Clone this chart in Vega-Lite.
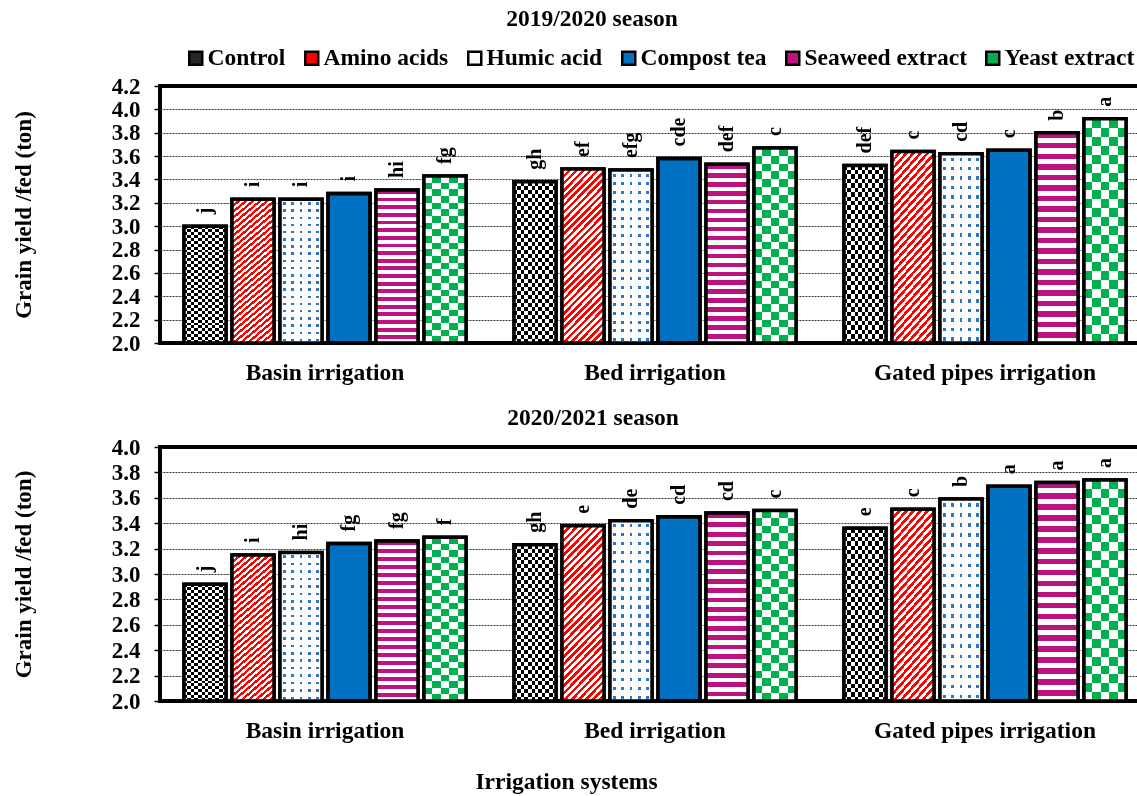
{
"$schema":"https://vega.github.io/schema/vega-lite/v6.json",
"padding":{"left":10,"top":4,"right":0,"bottom":0},
"datasets":{"d":[
{"s":"2019/2020","irr":"Basin irrigation","trt":"Control","v":3.00,"lab":"j"},
{"s":"2019/2020","irr":"Basin irrigation","trt":"Amino acids","v":3.23,"lab":"i"},
{"s":"2019/2020","irr":"Basin irrigation","trt":"Humic acid","v":3.23,"lab":"i"},
{"s":"2019/2020","irr":"Basin irrigation","trt":"Compost tea","v":3.28,"lab":"i"},
{"s":"2019/2020","irr":"Basin irrigation","trt":"Seaweed extract","v":3.31,"lab":"hi"},
{"s":"2019/2020","irr":"Basin irrigation","trt":"Yeast extract","v":3.43,"lab":"fg"},
{"s":"2019/2020","irr":"Bed irrigation","trt":"Control","v":3.38,"lab":"gh"},
{"s":"2019/2020","irr":"Bed irrigation","trt":"Amino acids","v":3.49,"lab":"ef"},
{"s":"2019/2020","irr":"Bed irrigation","trt":"Humic acid","v":3.48,"lab":"efg"},
{"s":"2019/2020","irr":"Bed irrigation","trt":"Compost tea","v":3.58,"lab":"cde"},
{"s":"2019/2020","irr":"Bed irrigation","trt":"Seaweed extract","v":3.53,"lab":"def"},
{"s":"2019/2020","irr":"Bed irrigation","trt":"Yeast extract","v":3.67,"lab":"c"},
{"s":"2019/2020","irr":"Gated pipes irrigation","trt":"Control","v":3.52,"lab":"def"},
{"s":"2019/2020","irr":"Gated pipes irrigation","trt":"Amino acids","v":3.64,"lab":"c"},
{"s":"2019/2020","irr":"Gated pipes irrigation","trt":"Humic acid","v":3.62,"lab":"cd"},
{"s":"2019/2020","irr":"Gated pipes irrigation","trt":"Compost tea","v":3.65,"lab":"c"},
{"s":"2019/2020","irr":"Gated pipes irrigation","trt":"Seaweed extract","v":3.80,"lab":"b"},
{"s":"2019/2020","irr":"Gated pipes irrigation","trt":"Yeast extract","v":3.92,"lab":"a"},
{"s":"2020/2021","irr":"Basin irrigation","trt":"Control","v":2.92,"lab":"j"},
{"s":"2020/2021","irr":"Basin irrigation","trt":"Amino acids","v":3.15,"lab":"i"},
{"s":"2020/2021","irr":"Basin irrigation","trt":"Humic acid","v":3.17,"lab":"hi"},
{"s":"2020/2021","irr":"Basin irrigation","trt":"Compost tea","v":3.24,"lab":"fg"},
{"s":"2020/2021","irr":"Basin irrigation","trt":"Seaweed extract","v":3.26,"lab":"fg"},
{"s":"2020/2021","irr":"Basin irrigation","trt":"Yeast extract","v":3.29,"lab":"f"},
{"s":"2020/2021","irr":"Bed irrigation","trt":"Control","v":3.23,"lab":"gh"},
{"s":"2020/2021","irr":"Bed irrigation","trt":"Amino acids","v":3.38,"lab":"e"},
{"s":"2020/2021","irr":"Bed irrigation","trt":"Humic acid","v":3.42,"lab":"de"},
{"s":"2020/2021","irr":"Bed irrigation","trt":"Compost tea","v":3.45,"lab":"cd"},
{"s":"2020/2021","irr":"Bed irrigation","trt":"Seaweed extract","v":3.48,"lab":"cd"},
{"s":"2020/2021","irr":"Bed irrigation","trt":"Yeast extract","v":3.50,"lab":"c"},
{"s":"2020/2021","irr":"Gated pipes irrigation","trt":"Control","v":3.36,"lab":"e"},
{"s":"2020/2021","irr":"Gated pipes irrigation","trt":"Amino acids","v":3.51,"lab":"c"},
{"s":"2020/2021","irr":"Gated pipes irrigation","trt":"Humic acid","v":3.59,"lab":"b"},
{"s":"2020/2021","irr":"Gated pipes irrigation","trt":"Compost tea","v":3.69,"lab":"a"},
{"s":"2020/2021","irr":"Gated pipes irrigation","trt":"Seaweed extract","v":3.72,"lab":"a"},
{"s":"2020/2021","irr":"Gated pipes irrigation","trt":"Yeast extract","v":3.74,"lab":"a"}
]},
"data":{"name":"d"},
"spacing":17,
"resolve":{"scale":{"color":"independent"}},
"vconcat":[
{
"title":{"text":"2019/2020 season","dx":-63,"offset":16},
"width":990,"height":257,
"transform":[{"filter":"datum.s == '2019/2020'"}],
"encoding":{
"x":{"field":"irr","type":"nominal","scale":{"domain":["Basin irrigation","Bed irrigation","Gated pipes irrigation"],"paddingInner":0,"paddingOuter":0},"axis":{"title":null,"labelAngle":0,"labelLimit":500,"ticks":false,"tickSize":0,"domain":false,"grid":false,"labelPadding":17,"labelFontSize":23.5}},
"xOffset":{"field":"trt","type":"nominal","scale":{"domain":["Control","Amino acids","Humic acid","Compost tea","Seaweed extract","Yeast extract"],"paddingInner":0.125,"paddingOuter":0.5}},
"y":{"field":"v","type":"quantitative","scale":{"domain":[2,4.2],"zero":false,"nice":false},"axis":{"title":"Grain yield /fed (ton)","values":[2,2.2,2.4,2.6,2.8,3,3.2,3.4,3.6,3.8,4,4.2],"format":".1f","labelOverlap":false,"labelFontSize":23,"labelPadding":14,"tickSize":6,"tickWidth":1.5,"tickColor":"#000","domain":false,"gridColor":"#333","gridDash":[2,1],"gridWidth":1,"gridOpacity":{"condition":{"test":"datum.value <= 2.01 || datum.value >= 4.19","value":0},"value":1},"titleFontSize":23,"titlePadding":76}}
},
"layer":[
{"encoding":{"y2":{"datum":2}},
"layer":[
{"mark":{"type":"bar","stroke":"#000","strokeWidth":3.5},"encoding":{"color":{"field":"trt","type":"nominal","scale":{"domain":["Control","Amino acids","Humic acid","Compost tea","Seaweed extract","Yeast extract"],"range":["#262626","#ff0000","#ffffff","#0070c0","#be1283","#00b050"]},"legend":{"orient":"none","legendX":24,"legendY":-40,"direction":"horizontal","title":null,"labelFontSize":23.5,"labelFont":"Liberation Serif","labelFontWeight":"bold","labelColor":"#000","labelLimit":400,"symbolType":"square","symbolSize":169,"symbolStrokeColor":"#000","symbolStrokeWidth":2.5,"labelOffset":0,"columnPadding":14,"padding":0,"symbolOpacity":1}}}},
{"transform":[{"filter":"datum.trt == 'Control'"}],"mark":{"type":"bar","style":"ctlV"}},
{"transform":[{"filter":"datum.trt == 'Control'"}],"mark":{"type":"bar","style":"ctlH","blend":"difference"}},
{"transform":[{"filter":"datum.trt == 'Amino acids'"}],"mark":{"type":"bar","style":"amino"}},
{"transform":[{"filter":"datum.trt == 'Humic acid'"}],"mark":{"type":"bar","style":"humV"}},
{"transform":[{"filter":"datum.trt == 'Humic acid'"}],"mark":{"type":"bar","style":"humH","blend":"lighten"}},
{"transform":[{"filter":"datum.trt == 'Seaweed extract'"}],"mark":{"type":"bar","style":"seaw"}},
{"transform":[{"filter":"datum.trt == 'Yeast extract'"}],"mark":{"type":"bar","style":"yeaV"}},
{"transform":[{"filter":"datum.trt == 'Yeast extract'"}],"mark":{"type":"bar","style":"yeaH","blend":"difference"}},
{"transform":[{"filter":"datum.trt == 'Yeast extract'"}],"mark":{"type":"bar","color":"#00b050","blend":"lighten"}},
{"mark":{"type":"bar","fill":"transparent","stroke":"#000","strokeWidth":3.5}}
]},
{"mark":{"type":"text","angle":270,"align":"left","baseline":"middle","dx":12,"font":"Liberation Serif","fontSize":20,"fontWeight":"bold","color":"#000"},"encoding":{"text":{"field":"lab"}}}
]
},
{
"title":{"text":"2020/2021 season","dx":-62,"offset":7},
"width":990,"height":254,
"transform":[{"filter":"datum.s == '2020/2021'"}],
"encoding":{
"x":{"field":"irr","type":"nominal","scale":{"domain":["Basin irrigation","Bed irrigation","Gated pipes irrigation"],"paddingInner":0,"paddingOuter":0},"axis":{"title":"Irrigation systems","titleX":406,"titlePadding":28,"titleFontSize":23.5,"labelAngle":0,"labelLimit":500,"ticks":false,"tickSize":0,"domain":false,"grid":false,"labelPadding":17,"labelFontSize":23.5}},
"xOffset":{"field":"trt","type":"nominal","scale":{"domain":["Control","Amino acids","Humic acid","Compost tea","Seaweed extract","Yeast extract"],"paddingInner":0.125,"paddingOuter":0.5}},
"y":{"field":"v","type":"quantitative","scale":{"domain":[2,4],"zero":false,"nice":false},"axis":{"title":"Grain yield /fed (ton)","values":[2,2.2,2.4,2.6,2.8,3,3.2,3.4,3.6,3.8,4],"format":".1f","labelOverlap":false,"labelFontSize":23,"labelPadding":14,"tickSize":6,"tickWidth":1.5,"tickColor":"#000","domain":false,"gridColor":"#333","gridDash":[2,1],"gridWidth":1,"gridOpacity":{"condition":{"test":"datum.value <= 2.01 || datum.value >= 3.99","value":0},"value":1},"titleFontSize":23,"titlePadding":76}}
},
"layer":[
{"encoding":{"y2":{"datum":2}},
"layer":[
{"mark":{"type":"bar","stroke":"#000","strokeWidth":3.5},"encoding":{"color":{"field":"trt","type":"nominal","scale":{"domain":["Control","Amino acids","Humic acid","Compost tea","Seaweed extract","Yeast extract"],"range":["#262626","#ff0000","#ffffff","#0070c0","#be1283","#00b050"]},"legend":null}}},
{"transform":[{"filter":"datum.trt == 'Control'"}],"mark":{"type":"bar","style":"ctlV"}},
{"transform":[{"filter":"datum.trt == 'Control'"}],"mark":{"type":"bar","style":"ctlH","blend":"difference"}},
{"transform":[{"filter":"datum.trt == 'Amino acids'"}],"mark":{"type":"bar","style":"amino"}},
{"transform":[{"filter":"datum.trt == 'Humic acid'"}],"mark":{"type":"bar","style":"humV"}},
{"transform":[{"filter":"datum.trt == 'Humic acid'"}],"mark":{"type":"bar","style":"humH","blend":"lighten"}},
{"transform":[{"filter":"datum.trt == 'Seaweed extract'"}],"mark":{"type":"bar","style":"seaw"}},
{"transform":[{"filter":"datum.trt == 'Yeast extract'"}],"mark":{"type":"bar","style":"yeaV"}},
{"transform":[{"filter":"datum.trt == 'Yeast extract'"}],"mark":{"type":"bar","style":"yeaH","blend":"difference"}},
{"transform":[{"filter":"datum.trt == 'Yeast extract'"}],"mark":{"type":"bar","color":"#00b050","blend":"lighten"}},
{"mark":{"type":"bar","fill":"transparent","stroke":"#000","strokeWidth":3.5}}
]},
{"mark":{"type":"text","angle":270,"align":"left","baseline":"middle","dx":12,"font":"Liberation Serif","fontSize":20,"fontWeight":"bold","color":"#000"},"encoding":{"text":{"field":"lab"}}}
]
}
],
"config":{
"font":"Liberation Serif",
"background":"#ffffff",
"view":{"stroke":"#000","strokeWidth":4},
"title":{"font":"Liberation Serif","fontSize":23.5,"fontWeight":"bold","color":"#000","anchor":"middle"},
"axis":{"labelFont":"Liberation Serif","labelFontWeight":"bold","labelColor":"#000","titleFont":"Liberation Serif","titleFontWeight":"bold","titleColor":"#000"},
"style":{
"ctlV":{"color":{"gradient":"linear","x1":0,"y1":0,"x2":1,"y2":0,"stops":[
{"offset":0,"color":"#000"},{"offset":0.0833,"color":"#000"},{"offset":0.0833,"color":"#fff"},{"offset":0.1667,"color":"#fff"},
{"offset":0.1667,"color":"#000"},{"offset":0.25,"color":"#000"},{"offset":0.25,"color":"#fff"},{"offset":0.3333,"color":"#fff"},
{"offset":0.3333,"color":"#000"},{"offset":0.4167,"color":"#000"},{"offset":0.4167,"color":"#fff"},{"offset":0.5,"color":"#fff"},
{"offset":0.5,"color":"#000"},{"offset":0.5833,"color":"#000"},{"offset":0.5833,"color":"#fff"},{"offset":0.6667,"color":"#fff"},
{"offset":0.6667,"color":"#000"},{"offset":0.75,"color":"#000"},{"offset":0.75,"color":"#fff"},{"offset":0.8333,"color":"#fff"},
{"offset":0.8333,"color":"#000"},{"offset":0.9167,"color":"#000"},{"offset":0.9167,"color":"#fff"},{"offset":1,"color":"#fff"}]}},
"ctlH":{"color":{"gradient":"linear","x1":0,"y1":0,"x2":0,"y2":1,"stops":[
{"offset":0,"color":"#000"},{"offset":0.025,"color":"#000"},{"offset":0.025,"color":"#fff"},{"offset":0.05,"color":"#fff"},
{"offset":0.05,"color":"#000"},{"offset":0.075,"color":"#000"},{"offset":0.075,"color":"#fff"},{"offset":0.1,"color":"#fff"},
{"offset":0.1,"color":"#000"},{"offset":0.125,"color":"#000"},{"offset":0.125,"color":"#fff"},{"offset":0.15,"color":"#fff"},
{"offset":0.15,"color":"#000"},{"offset":0.175,"color":"#000"},{"offset":0.175,"color":"#fff"},{"offset":0.2,"color":"#fff"},
{"offset":0.2,"color":"#000"},{"offset":0.225,"color":"#000"},{"offset":0.225,"color":"#fff"},{"offset":0.25,"color":"#fff"},
{"offset":0.25,"color":"#000"},{"offset":0.275,"color":"#000"},{"offset":0.275,"color":"#fff"},{"offset":0.3,"color":"#fff"},
{"offset":0.3,"color":"#000"},{"offset":0.325,"color":"#000"},{"offset":0.325,"color":"#fff"},{"offset":0.35,"color":"#fff"},
{"offset":0.35,"color":"#000"},{"offset":0.375,"color":"#000"},{"offset":0.375,"color":"#fff"},{"offset":0.4,"color":"#fff"},
{"offset":0.4,"color":"#000"},{"offset":0.425,"color":"#000"},{"offset":0.425,"color":"#fff"},{"offset":0.45,"color":"#fff"},
{"offset":0.45,"color":"#000"},{"offset":0.475,"color":"#000"},{"offset":0.475,"color":"#fff"},{"offset":0.5,"color":"#fff"},
{"offset":0.5,"color":"#000"},{"offset":0.525,"color":"#000"},{"offset":0.525,"color":"#fff"},{"offset":0.55,"color":"#fff"},
{"offset":0.55,"color":"#000"},{"offset":0.575,"color":"#000"},{"offset":0.575,"color":"#fff"},{"offset":0.6,"color":"#fff"},
{"offset":0.6,"color":"#000"},{"offset":0.625,"color":"#000"},{"offset":0.625,"color":"#fff"},{"offset":0.65,"color":"#fff"},
{"offset":0.65,"color":"#000"},{"offset":0.675,"color":"#000"},{"offset":0.675,"color":"#fff"},{"offset":0.7,"color":"#fff"},
{"offset":0.7,"color":"#000"},{"offset":0.725,"color":"#000"},{"offset":0.725,"color":"#fff"},{"offset":0.75,"color":"#fff"},
{"offset":0.75,"color":"#000"},{"offset":0.775,"color":"#000"},{"offset":0.775,"color":"#fff"},{"offset":0.8,"color":"#fff"},
{"offset":0.8,"color":"#000"},{"offset":0.825,"color":"#000"},{"offset":0.825,"color":"#fff"},{"offset":0.85,"color":"#fff"},
{"offset":0.85,"color":"#000"},{"offset":0.875,"color":"#000"},{"offset":0.875,"color":"#fff"},{"offset":0.9,"color":"#fff"},
{"offset":0.9,"color":"#000"},{"offset":0.925,"color":"#000"},{"offset":0.925,"color":"#fff"},{"offset":0.95,"color":"#fff"},
{"offset":0.95,"color":"#000"},{"offset":0.975,"color":"#000"},{"offset":0.975,"color":"#fff"},{"offset":1,"color":"#fff"}]}},
"amino":{"color":{"gradient":"linear","x1":0,"y1":0,"x2":0.29,"y2":1.175,"stops":[
{"offset":0,"color":"#ff0000"},{"offset":0.0167,"color":"#ff0000"},{"offset":0.0167,"color":"#fff"},{"offset":0.0333,"color":"#fff"},
{"offset":0.0333,"color":"#ff0000"},{"offset":0.05,"color":"#ff0000"},{"offset":0.05,"color":"#fff"},{"offset":0.0667,"color":"#fff"},
{"offset":0.0667,"color":"#ff0000"},{"offset":0.0833,"color":"#ff0000"},{"offset":0.0833,"color":"#fff"},{"offset":0.1,"color":"#fff"},
{"offset":0.1,"color":"#ff0000"},{"offset":0.1167,"color":"#ff0000"},{"offset":0.1167,"color":"#fff"},{"offset":0.1333,"color":"#fff"},
{"offset":0.1333,"color":"#ff0000"},{"offset":0.15,"color":"#ff0000"},{"offset":0.15,"color":"#fff"},{"offset":0.1667,"color":"#fff"},
{"offset":0.1667,"color":"#ff0000"},{"offset":0.1833,"color":"#ff0000"},{"offset":0.1833,"color":"#fff"},{"offset":0.2,"color":"#fff"},
{"offset":0.2,"color":"#ff0000"},{"offset":0.2167,"color":"#ff0000"},{"offset":0.2167,"color":"#fff"},{"offset":0.2333,"color":"#fff"},
{"offset":0.2333,"color":"#ff0000"},{"offset":0.25,"color":"#ff0000"},{"offset":0.25,"color":"#fff"},{"offset":0.2667,"color":"#fff"},
{"offset":0.2667,"color":"#ff0000"},{"offset":0.2833,"color":"#ff0000"},{"offset":0.2833,"color":"#fff"},{"offset":0.3,"color":"#fff"},
{"offset":0.3,"color":"#ff0000"},{"offset":0.3167,"color":"#ff0000"},{"offset":0.3167,"color":"#fff"},{"offset":0.3333,"color":"#fff"},
{"offset":0.3333,"color":"#ff0000"},{"offset":0.35,"color":"#ff0000"},{"offset":0.35,"color":"#fff"},{"offset":0.3667,"color":"#fff"},
{"offset":0.3667,"color":"#ff0000"},{"offset":0.3833,"color":"#ff0000"},{"offset":0.3833,"color":"#fff"},{"offset":0.4,"color":"#fff"},
{"offset":0.4,"color":"#ff0000"},{"offset":0.4167,"color":"#ff0000"},{"offset":0.4167,"color":"#fff"},{"offset":0.4333,"color":"#fff"},
{"offset":0.4333,"color":"#ff0000"},{"offset":0.45,"color":"#ff0000"},{"offset":0.45,"color":"#fff"},{"offset":0.4667,"color":"#fff"},
{"offset":0.4667,"color":"#ff0000"},{"offset":0.4833,"color":"#ff0000"},{"offset":0.4833,"color":"#fff"},{"offset":0.5,"color":"#fff"},
{"offset":0.5,"color":"#ff0000"},{"offset":0.5167,"color":"#ff0000"},{"offset":0.5167,"color":"#fff"},{"offset":0.5333,"color":"#fff"},
{"offset":0.5333,"color":"#ff0000"},{"offset":0.55,"color":"#ff0000"},{"offset":0.55,"color":"#fff"},{"offset":0.5667,"color":"#fff"},
{"offset":0.5667,"color":"#ff0000"},{"offset":0.5833,"color":"#ff0000"},{"offset":0.5833,"color":"#fff"},{"offset":0.6,"color":"#fff"},
{"offset":0.6,"color":"#ff0000"},{"offset":0.6167,"color":"#ff0000"},{"offset":0.6167,"color":"#fff"},{"offset":0.6333,"color":"#fff"},
{"offset":0.6333,"color":"#ff0000"},{"offset":0.65,"color":"#ff0000"},{"offset":0.65,"color":"#fff"},{"offset":0.6667,"color":"#fff"},
{"offset":0.6667,"color":"#ff0000"},{"offset":0.6833,"color":"#ff0000"},{"offset":0.6833,"color":"#fff"},{"offset":0.7,"color":"#fff"},
{"offset":0.7,"color":"#ff0000"},{"offset":0.7167,"color":"#ff0000"},{"offset":0.7167,"color":"#fff"},{"offset":0.7333,"color":"#fff"},
{"offset":0.7333,"color":"#ff0000"},{"offset":0.75,"color":"#ff0000"},{"offset":0.75,"color":"#fff"},{"offset":0.7667,"color":"#fff"},
{"offset":0.7667,"color":"#ff0000"},{"offset":0.7833,"color":"#ff0000"},{"offset":0.7833,"color":"#fff"},{"offset":0.8,"color":"#fff"},
{"offset":0.8,"color":"#ff0000"},{"offset":0.8167,"color":"#ff0000"},{"offset":0.8167,"color":"#fff"},{"offset":0.8333,"color":"#fff"},
{"offset":0.8333,"color":"#ff0000"},{"offset":0.85,"color":"#ff0000"},{"offset":0.85,"color":"#fff"},{"offset":0.8667,"color":"#fff"},
{"offset":0.8667,"color":"#ff0000"},{"offset":0.8833,"color":"#ff0000"},{"offset":0.8833,"color":"#fff"},{"offset":0.9,"color":"#fff"},
{"offset":0.9,"color":"#ff0000"},{"offset":0.9167,"color":"#ff0000"},{"offset":0.9167,"color":"#fff"},{"offset":0.9333,"color":"#fff"},
{"offset":0.9333,"color":"#ff0000"},{"offset":0.95,"color":"#ff0000"},{"offset":0.95,"color":"#fff"},{"offset":0.9667,"color":"#fff"},
{"offset":0.9667,"color":"#ff0000"},{"offset":0.9833,"color":"#ff0000"},{"offset":0.9833,"color":"#fff"},{"offset":1,"color":"#fff"}]}},
"humV":{"color":{"gradient":"linear","x1":0,"y1":0,"x2":1,"y2":0,"stops":[
{"offset":0,"color":"#fff"},
{"offset":0.065,"color":"#fff"},{"offset":0.065,"color":"#2e75c8"},{"offset":0.135,"color":"#2e75c8"},{"offset":0.135,"color":"#fff"},
{"offset":0.265,"color":"#fff"},{"offset":0.265,"color":"#2e75c8"},{"offset":0.335,"color":"#2e75c8"},{"offset":0.335,"color":"#fff"},
{"offset":0.465,"color":"#fff"},{"offset":0.465,"color":"#2e75c8"},{"offset":0.535,"color":"#2e75c8"},{"offset":0.535,"color":"#fff"},
{"offset":0.665,"color":"#fff"},{"offset":0.665,"color":"#2e75c8"},{"offset":0.735,"color":"#2e75c8"},{"offset":0.735,"color":"#fff"},
{"offset":0.865,"color":"#fff"},{"offset":0.865,"color":"#2e75c8"},{"offset":0.935,"color":"#2e75c8"},{"offset":0.935,"color":"#fff"},
{"offset":1,"color":"#fff"}]}},
"humH":{"color":{"gradient":"linear","x1":0,"y1":0,"x2":0,"y2":1,"stops":[
{"offset":0,"color":"#fff"},
{"offset":0.02,"color":"#fff"},{"offset":0.02,"color":"#000"},{"offset":0.0375,"color":"#000"},{"offset":0.0375,"color":"#fff"},
{"offset":0.07,"color":"#fff"},{"offset":0.07,"color":"#000"},{"offset":0.0875,"color":"#000"},{"offset":0.0875,"color":"#fff"},
{"offset":0.12,"color":"#fff"},{"offset":0.12,"color":"#000"},{"offset":0.1375,"color":"#000"},{"offset":0.1375,"color":"#fff"},
{"offset":0.17,"color":"#fff"},{"offset":0.17,"color":"#000"},{"offset":0.1875,"color":"#000"},{"offset":0.1875,"color":"#fff"},
{"offset":0.22,"color":"#fff"},{"offset":0.22,"color":"#000"},{"offset":0.2375,"color":"#000"},{"offset":0.2375,"color":"#fff"},
{"offset":0.27,"color":"#fff"},{"offset":0.27,"color":"#000"},{"offset":0.2875,"color":"#000"},{"offset":0.2875,"color":"#fff"},
{"offset":0.32,"color":"#fff"},{"offset":0.32,"color":"#000"},{"offset":0.3375,"color":"#000"},{"offset":0.3375,"color":"#fff"},
{"offset":0.37,"color":"#fff"},{"offset":0.37,"color":"#000"},{"offset":0.3875,"color":"#000"},{"offset":0.3875,"color":"#fff"},
{"offset":0.42,"color":"#fff"},{"offset":0.42,"color":"#000"},{"offset":0.4375,"color":"#000"},{"offset":0.4375,"color":"#fff"},
{"offset":0.47,"color":"#fff"},{"offset":0.47,"color":"#000"},{"offset":0.4875,"color":"#000"},{"offset":0.4875,"color":"#fff"},
{"offset":0.52,"color":"#fff"},{"offset":0.52,"color":"#000"},{"offset":0.5375,"color":"#000"},{"offset":0.5375,"color":"#fff"},
{"offset":0.57,"color":"#fff"},{"offset":0.57,"color":"#000"},{"offset":0.5875,"color":"#000"},{"offset":0.5875,"color":"#fff"},
{"offset":0.62,"color":"#fff"},{"offset":0.62,"color":"#000"},{"offset":0.6375,"color":"#000"},{"offset":0.6375,"color":"#fff"},
{"offset":0.67,"color":"#fff"},{"offset":0.67,"color":"#000"},{"offset":0.6875,"color":"#000"},{"offset":0.6875,"color":"#fff"},
{"offset":0.72,"color":"#fff"},{"offset":0.72,"color":"#000"},{"offset":0.7375,"color":"#000"},{"offset":0.7375,"color":"#fff"},
{"offset":0.77,"color":"#fff"},{"offset":0.77,"color":"#000"},{"offset":0.7875,"color":"#000"},{"offset":0.7875,"color":"#fff"},
{"offset":0.82,"color":"#fff"},{"offset":0.82,"color":"#000"},{"offset":0.8375,"color":"#000"},{"offset":0.8375,"color":"#fff"},
{"offset":0.87,"color":"#fff"},{"offset":0.87,"color":"#000"},{"offset":0.8875,"color":"#000"},{"offset":0.8875,"color":"#fff"},
{"offset":0.92,"color":"#fff"},{"offset":0.92,"color":"#000"},{"offset":0.9375,"color":"#000"},{"offset":0.9375,"color":"#fff"},
{"offset":0.97,"color":"#fff"},{"offset":0.97,"color":"#000"},{"offset":0.9875,"color":"#000"},{"offset":0.9875,"color":"#fff"},
{"offset":1,"color":"#fff"}]}},
"seaw":{"color":{"gradient":"linear","x1":0,"y1":0,"x2":0,"y2":1,"stops":[
{"offset":0,"color":"#be1283"},{"offset":0.025,"color":"#be1283"},{"offset":0.025,"color":"#fff"},{"offset":0.05,"color":"#fff"},
{"offset":0.05,"color":"#be1283"},{"offset":0.075,"color":"#be1283"},{"offset":0.075,"color":"#fff"},{"offset":0.1,"color":"#fff"},
{"offset":0.1,"color":"#be1283"},{"offset":0.125,"color":"#be1283"},{"offset":0.125,"color":"#fff"},{"offset":0.15,"color":"#fff"},
{"offset":0.15,"color":"#be1283"},{"offset":0.175,"color":"#be1283"},{"offset":0.175,"color":"#fff"},{"offset":0.2,"color":"#fff"},
{"offset":0.2,"color":"#be1283"},{"offset":0.225,"color":"#be1283"},{"offset":0.225,"color":"#fff"},{"offset":0.25,"color":"#fff"},
{"offset":0.25,"color":"#be1283"},{"offset":0.275,"color":"#be1283"},{"offset":0.275,"color":"#fff"},{"offset":0.3,"color":"#fff"},
{"offset":0.3,"color":"#be1283"},{"offset":0.325,"color":"#be1283"},{"offset":0.325,"color":"#fff"},{"offset":0.35,"color":"#fff"},
{"offset":0.35,"color":"#be1283"},{"offset":0.375,"color":"#be1283"},{"offset":0.375,"color":"#fff"},{"offset":0.4,"color":"#fff"},
{"offset":0.4,"color":"#be1283"},{"offset":0.425,"color":"#be1283"},{"offset":0.425,"color":"#fff"},{"offset":0.45,"color":"#fff"},
{"offset":0.45,"color":"#be1283"},{"offset":0.475,"color":"#be1283"},{"offset":0.475,"color":"#fff"},{"offset":0.5,"color":"#fff"},
{"offset":0.5,"color":"#be1283"},{"offset":0.525,"color":"#be1283"},{"offset":0.525,"color":"#fff"},{"offset":0.55,"color":"#fff"},
{"offset":0.55,"color":"#be1283"},{"offset":0.575,"color":"#be1283"},{"offset":0.575,"color":"#fff"},{"offset":0.6,"color":"#fff"},
{"offset":0.6,"color":"#be1283"},{"offset":0.625,"color":"#be1283"},{"offset":0.625,"color":"#fff"},{"offset":0.65,"color":"#fff"},
{"offset":0.65,"color":"#be1283"},{"offset":0.675,"color":"#be1283"},{"offset":0.675,"color":"#fff"},{"offset":0.7,"color":"#fff"},
{"offset":0.7,"color":"#be1283"},{"offset":0.725,"color":"#be1283"},{"offset":0.725,"color":"#fff"},{"offset":0.75,"color":"#fff"},
{"offset":0.75,"color":"#be1283"},{"offset":0.775,"color":"#be1283"},{"offset":0.775,"color":"#fff"},{"offset":0.8,"color":"#fff"},
{"offset":0.8,"color":"#be1283"},{"offset":0.825,"color":"#be1283"},{"offset":0.825,"color":"#fff"},{"offset":0.85,"color":"#fff"},
{"offset":0.85,"color":"#be1283"},{"offset":0.875,"color":"#be1283"},{"offset":0.875,"color":"#fff"},{"offset":0.9,"color":"#fff"},
{"offset":0.9,"color":"#be1283"},{"offset":0.925,"color":"#be1283"},{"offset":0.925,"color":"#fff"},{"offset":0.95,"color":"#fff"},
{"offset":0.95,"color":"#be1283"},{"offset":0.975,"color":"#be1283"},{"offset":0.975,"color":"#fff"},{"offset":1,"color":"#fff"}]}},
"yeaV":{"color":{"gradient":"linear","x1":0,"y1":0,"x2":1,"y2":0,"stops":[
{"offset":0,"color":"#000"},{"offset":0.2,"color":"#000"},{"offset":0.2,"color":"#fff"},{"offset":0.4,"color":"#fff"},
{"offset":0.4,"color":"#000"},{"offset":0.6,"color":"#000"},{"offset":0.6,"color":"#fff"},{"offset":0.8,"color":"#fff"},
{"offset":0.8,"color":"#000"},{"offset":1,"color":"#000"}]}},
"yeaH":{"color":{"gradient":"linear","x1":0,"y1":0,"x2":0,"y2":1,"stops":[
{"offset":0,"color":"#fff"},{"offset":0.04,"color":"#fff"},{"offset":0.04,"color":"#000"},{"offset":0.08,"color":"#000"},
{"offset":0.08,"color":"#fff"},{"offset":0.12,"color":"#fff"},{"offset":0.12,"color":"#000"},{"offset":0.16,"color":"#000"},
{"offset":0.16,"color":"#fff"},{"offset":0.2,"color":"#fff"},{"offset":0.2,"color":"#000"},{"offset":0.24,"color":"#000"},
{"offset":0.24,"color":"#fff"},{"offset":0.28,"color":"#fff"},{"offset":0.28,"color":"#000"},{"offset":0.32,"color":"#000"},
{"offset":0.32,"color":"#fff"},{"offset":0.36,"color":"#fff"},{"offset":0.36,"color":"#000"},{"offset":0.4,"color":"#000"},
{"offset":0.4,"color":"#fff"},{"offset":0.44,"color":"#fff"},{"offset":0.44,"color":"#000"},{"offset":0.48,"color":"#000"},
{"offset":0.48,"color":"#fff"},{"offset":0.52,"color":"#fff"},{"offset":0.52,"color":"#000"},{"offset":0.56,"color":"#000"},
{"offset":0.56,"color":"#fff"},{"offset":0.6,"color":"#fff"},{"offset":0.6,"color":"#000"},{"offset":0.64,"color":"#000"},
{"offset":0.64,"color":"#fff"},{"offset":0.68,"color":"#fff"},{"offset":0.68,"color":"#000"},{"offset":0.72,"color":"#000"},
{"offset":0.72,"color":"#fff"},{"offset":0.76,"color":"#fff"},{"offset":0.76,"color":"#000"},{"offset":0.8,"color":"#000"},
{"offset":0.8,"color":"#fff"},{"offset":0.84,"color":"#fff"},{"offset":0.84,"color":"#000"},{"offset":0.88,"color":"#000"},
{"offset":0.88,"color":"#fff"},{"offset":0.92,"color":"#fff"},{"offset":0.92,"color":"#000"},{"offset":0.96,"color":"#000"},
{"offset":0.96,"color":"#fff"},{"offset":1,"color":"#fff"}]}}
}
}
}
